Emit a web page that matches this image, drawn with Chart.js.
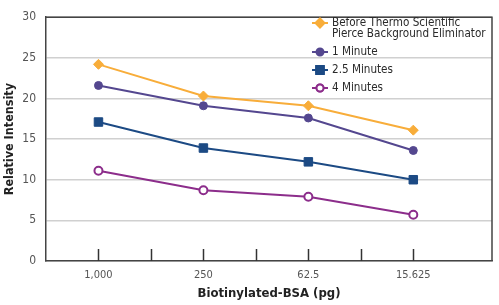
<!DOCTYPE html>
<html>
<head>
<meta charset="utf-8">
<script src="https://cdn.jsdelivr.net/npm/chart.js@4/dist/chart.umd.min.js"></script>
<style>
  html, body { margin: 0; padding: 0; background: #fff; }
  #wrap { width: 499px; height: 305px; position: relative; }
</style>
</head>
<body>
<div id="wrap"><canvas id="chart"></canvas></div>
<script>
// categorias del eje x
const doses = ["1,000", "250", "62.5", "15.625"];

// valores
const before = [24.2, 20.3, 19.1, 16.1];
const oneMin = [21.6, 19.1, 17.6, 13.6];
const twoHalfMin = [17.1, 13.9, 12.2, 10.0];
const fourMin = [11.1, 8.7, 7.9, 5.7];

const yTicks = [0, 5, 10, 15, 20, 25, 30];

const FONT = "'Liberation Sans Narrow', 'DejaVu Sans Condensed', 'Liberation Sans', sans-serif";
const GRAY = "#444";

// cada serie se coloca en x = 1..4
const toPoints = (vals) => vals.map((v, i) => ({ x: i + 1, y: v }));

// marcas del eje x hacia dentro del area
const innerTicks = {
  id: "innerTicks",
  afterDatasetsDraw(chart) {
    const { ctx, chartArea, scales } = chart;
    ctx.save();
    ctx.strokeStyle = "#333";
    ctx.lineWidth = 1.5;
    scales.x.ticks.forEach((t) => {
      const px = Math.round(scales.x.getPixelForValue(t.value)) + 0.5;
      ctx.beginPath();
      ctx.moveTo(px, chartArea.bottom);
      ctx.lineTo(px, chartArea.bottom - 12);
      ctx.stroke();
    });
    // borde superior y derecho
    ctx.strokeStyle = GRAY;
    ctx.lineWidth = 1.5;
    ctx.beginPath();
    ctx.moveTo(chartArea.left, chartArea.top);
    ctx.lineTo(chartArea.right, chartArea.top);
    ctx.lineTo(chartArea.right, chartArea.bottom);
    ctx.stroke();
    ctx.restore();
  },
};

// leyenda dibujada a mano (la primera etiqueta tiene dos lineas)
const customLegend = {
  id: "customLegend",
  afterDraw(chart) {
    const { ctx } = chart;
    const rows = [
      { lines: ["Before Thermo Scientific", "Pierce Background Eliminator"], y: 23 },
      { lines: ["1 Minute"], y: 52 },
      { lines: ["2.5 Minutes"], y: 70 },
      { lines: ["4 Minutes"], y: 88 },
    ];
    ctx.save();
    chart.data.datasets.forEach((ds, i) => {
      const r = rows[i];
      ctx.strokeStyle = ds.borderColor;
      ctx.lineWidth = 2;
      ctx.beginPath();
      ctx.moveTo(312, r.y);
      ctx.lineTo(328, r.y);
      ctx.stroke();
      Chart.helpers.drawPoint(ctx, {
        pointStyle: ds.pointStyle,
        radius: ds.pointRadius - 0.5,
        borderWidth: ds.pointBorderWidth,
      }, 320, r.y);
      ctx.fillStyle = ds.pointBackgroundColor;
      ctx.strokeStyle = ds.borderColor;
      ctx.lineWidth = ds.pointBorderWidth;
      ctx.fill();
      ctx.stroke();
      ctx.fillStyle = "#2a2a2a";
      ctx.font = "11.6px " + FONT;
      ctx.textBaseline = "middle";
      ctx.textAlign = "left";
      r.lines.forEach((txt, k) => ctx.fillText(txt, 332, r.y + k * 11));
    });
    ctx.restore();
  },
};

const ctx = document.getElementById("chart").getContext("2d");

new Chart(ctx, {
  type: "line",
  data: {
    datasets: [
      {
        label: "Before Thermo Scientific Pierce Background Eliminator",
        data: toPoints(before),
        borderColor: "#F8AD3A",
        pointBackgroundColor: "#F8AD3A",
        pointStyle: "rectRot",
        pointRadius: 5,
        pointBorderWidth: 1,
      },
      {
        label: "1 Minute",
        data: toPoints(oneMin),
        borderColor: "#54478F",
        pointBackgroundColor: "#54478F",
        pointStyle: "circle",
        pointRadius: 4,
        pointBorderWidth: 1,
      },
      {
        label: "2.5 Minutes",
        data: toPoints(twoHalfMin),
        borderColor: "#1C4A84",
        pointBackgroundColor: "#1C4A84",
        pointStyle: "rect",
        pointRadius: 6,
        pointBorderWidth: 1,
      },
      {
        label: "4 Minutes",
        data: toPoints(fourMin),
        borderColor: "#8C2D8B",
        pointBackgroundColor: "#ffffff",
        pointStyle: "circle",
        pointRadius: 4,
        pointBorderWidth: 2,
      },
    ],
  },
  options: {
    responsive: true,
    maintainAspectRatio: false,
    animation: false,
    elements: { line: { borderWidth: 2, tension: 0 } },
    layout: { padding: { top: 6, right: 6, left: 0, bottom: 0 } },
    plugins: { legend: { display: false }, tooltip: { enabled: false } },
    scales: {
      x: {
        type: "linear",
        min: 0.5,
        max: 4.75,
        afterBuildTicks: (scale) => {
          scale.ticks = [1, 1.5, 2, 2.5, 3, 3.5, 4].map((v) => ({ value: v }));
        },
        afterFit: (scale) => { scale.height = 44; },
        grid: { display: false, drawTicks: false },
        border: { display: true, color: GRAY, width: 1.5 },
        ticks: {
          autoSkip: false,
          maxRotation: 0,
          padding: 8,
          color: "#555",
          font: { family: FONT, size: 11 },
          callback: (v) => (Number.isInteger(v) ? doses[v - 1] : ""),
        },
        title: {
          display: true,
          text: "Biotinylated-BSA (pg)",
          color: "#222",
          font: { family: FONT, size: 13, weight: "bold" },
          padding: { top: 2, bottom: 4 },
        },
      },
      y: {
        min: 0,
        max: 30,
        afterBuildTicks: (scale) => {
          scale.ticks = yTicks.map((v) => ({ value: v }));
        },
        afterFit: (scale) => { scale.width = 46; },
        grid: { color: "#d0d0d0", lineWidth: 1.5, drawTicks: false },
        border: { display: true, color: GRAY, width: 1.5 },
        ticks: {
          padding: 10,
          color: "#555",
          font: { family: FONT, size: 12 },
        },
        title: {
          display: true,
          text: "Relative Intensity",
          color: "#222",
          font: { family: FONT, size: 12.5, weight: "bold" },
          padding: { top: 2, bottom: 0 },
        },
      },
    },
  },
  plugins: [innerTicks, customLegend],
});
</script>
</body>
</html>
